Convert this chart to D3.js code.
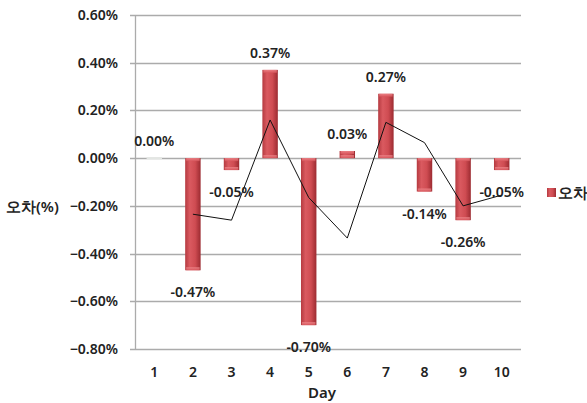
<!DOCTYPE html>
<html>
<head>
<meta charset="utf-8">
<script src="https://cdn.jsdelivr.net/npm/d3@7"></script>
<style>
  html, body { margin: 0; padding: 0; background: #fff; }
  svg { display: block; }
  text { font-family: "Noto Sans", "DejaVu Sans", sans-serif; }
</style>
</head>
<body>
<svg id="chart" width="587" height="403"></svg>
<script>
// Daily error (%) per day
const days = ["1", "2", "3", "4", "5", "6", "7", "8", "9", "10"];
const errors = [0.00, -0.47, -0.05, 0.37, -0.70, 0.03, 0.27, -0.14, -0.26, -0.05];
const errorLabels = ["0.00%", "-0.47%", "-0.05%", "0.37%", "-0.70%", "0.03%", "0.27%", "-0.14%", "-0.26%", "-0.05%"];
// Trend line (2-day moving average), days 2..10
const trendDays = ["2", "3", "4", "5", "6", "7", "8", "9", "10"];
const trendValues = [-0.235, -0.26, 0.16, -0.165, -0.335, 0.15, 0.065, -0.20, -0.155];
const yTicks = [-0.8, -0.6, -0.4, -0.2, 0.0, 0.2, 0.4, 0.6];

const svg = d3.select("#chart");
const plotLeft = 135, plotRight = 521, plotTop = 15, plotBottom = 349;

const x = d3.scaleBand().domain(days).range([plotLeft, plotRight]).paddingInner(0.6).paddingOuter(0.3);
const xc = d => x(d) + x.bandwidth() / 2;
const y = d3.scaleLinear().domain([-0.8, 0.6]).range([plotBottom, plotTop]);

// Bar gradient
const defs = svg.append("defs");
const grad = defs.append("linearGradient").attr("id", "barGrad")
  .attr("x1", "0%").attr("x2", "100%").attr("y1", "0%").attr("y2", "0%");
grad.append("stop").attr("offset", "0%").attr("stop-color", "#b53a40");
grad.append("stop").attr("offset", "30%").attr("stop-color", "#da5a60");
grad.append("stop").attr("offset", "65%").attr("stop-color", "#cf4c52");
grad.append("stop").attr("offset", "100%").attr("stop-color", "#9c2b31");
const capGrad = defs.append("linearGradient").attr("id", "capGrad")
  .attr("x1", "0%").attr("x2", "0%").attr("y1", "0%").attr("y2", "100%");
capGrad.append("stop").attr("offset", "0%").attr("stop-color", "#f08a8e");
capGrad.append("stop").attr("offset", "100%").attr("stop-color", "#d8565c");

// Gridlines
svg.append("g").selectAll("line").data(yTicks).join("line")
  .attr("x1", plotLeft - 5).attr("x2", plotRight)
  .attr("y1", d => Math.round(y(d)) + 0.5).attr("y2", d => Math.round(y(d)) + 0.5)
  .attr("stroke", "#ababab").attr("stroke-width", 1.3);

// Y axis
const yAxis = d3.axisLeft(y).tickValues(yTicks).tickSize(0).tickPadding(17)
  .tickFormat(d => d3.format(".2f")(d) + "%");
const ya = svg.append("g").attr("transform", `translate(${plotLeft},0)`).call(yAxis);
ya.select(".domain").attr("stroke", "#ababab").attr("stroke-width", 1.3);
ya.selectAll("text").attr("font-size", 14).attr("font-weight", 600).attr("fill", "#222");

// X axis labels
const xAxis = d3.axisBottom(x).tickSize(0).tickPadding(10);
const xa = svg.append("g").attr("transform", `translate(0,${plotBottom + 8})`).call(xAxis);
xa.select(".domain").remove();
xa.selectAll("text").attr("font-size", 14).attr("font-weight", 600).attr("fill", "#222");

// Bars
const bars = svg.append("g");
errors.forEach((v, i) => {
  const d = days[i];
  const y0 = y(0), y1 = y(v);
  const h = Math.abs(y1 - y0);
  if (h < 1) {
    bars.append("rect").attr("x", x(d)).attr("y", y0 - 1).attr("width", x.bandwidth()).attr("height", 2)
      .attr("fill", "#e3e6e3");
    return;
  }
  bars.append("rect").attr("x", x(d)).attr("y", Math.min(y0, y1))
    .attr("width", x.bandwidth()).attr("height", h).attr("fill", "url(#barGrad)");
  // bevelled end at the zero line
  bars.append("rect").attr("x", x(d) + 1).attr("y", v >= 0 ? y0 - 3 : y0)
    .attr("width", x.bandwidth() - 2).attr("height", 3).attr("fill", "url(#capGrad)").attr("opacity", 0.8);
  // bevelled top on the value end
  bars.append("rect").attr("x", x(d) + 1).attr("y", v >= 0 ? y1 : y1 - 3)
    .attr("width", x.bandwidth() - 2).attr("height", 3).attr("fill", "url(#capGrad)").attr("opacity", 0.8);
});

// Trend line
const line = d3.line().x((d, i) => xc(trendDays[i])).y(d => y(d));
svg.append("path").datum(trendValues).attr("d", line)
  .attr("fill", "none").attr("stroke", "#111").attr("stroke-width", 1);

// Value labels
svg.append("g").selectAll("text").data(errors).join("text")
  .attr("x", (d, i) => xc(days[i]))
  .attr("y", d => d >= 0 ? y(d) - 12 : y(d) + 27)
  .attr("text-anchor", "middle")
  .attr("font-size", 14).attr("font-weight", 600).attr("fill", "#222")
  .text((d, i) => errorLabels[i]);

// Axis titles
svg.append("text").attr("x", 322).attr("y", 398).attr("text-anchor", "middle")
  .attr("font-size", 15).attr("font-weight", 600).attr("fill", "#222").text("Day");
svg.append("text").attr("x", 6).attr("y", 212)
  .attr("font-size", 15).attr("font-weight", 600).attr("fill", "#222").text("오차(%)");

// Legend
svg.append("rect").attr("x", 547).attr("y", 188).attr("width", 9).attr("height", 9).attr("fill", "url(#barGrad)");
svg.append("text").attr("x", 558).attr("y", 198)
  .attr("font-size", 15).attr("font-weight", 600).attr("fill", "#222").text("오차");
</script>
</body>
</html>
